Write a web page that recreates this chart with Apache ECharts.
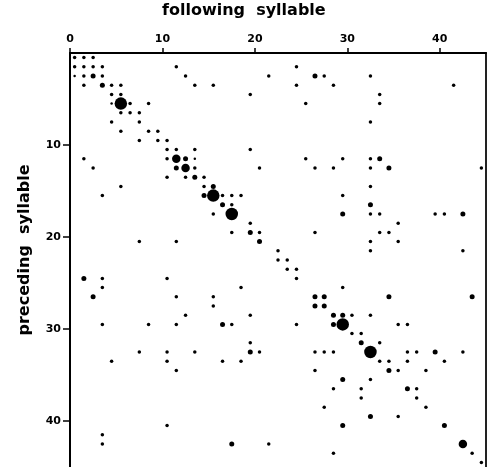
<!DOCTYPE html>
<html>
<head>
<meta charset="utf-8">
<script src="https://cdn.jsdelivr.net/npm/echarts@6/dist/echarts.min.js"></script>
<style>
  html, body { margin: 0; padding: 0; background: #fff; }
  #syllable-matrix { width: 490px; height: 467px; }
</style>
</head>
<body>
<div id="syllable-matrix"></div>
<script>
// cells are [following syllable, preceding syllable], grouped by dot size
var tinyCells = [[1, 3], [5, 6], [14, 12]];
var smallCells = [
  [1, 1], [2, 1], [3, 1],
  [1, 2], [2, 2], [3, 2], [4, 2], [12, 2], [25, 2],
  [2, 3], [4, 3], [13, 3], [22, 3], [28, 3], [33, 3],
  [2, 4], [5, 4], [6, 4], [14, 4], [16, 4], [25, 4], [29, 4], [42, 4],
  [5, 5], [6, 5], [20, 5], [34, 5],
  [7, 6], [9, 6], [26, 6], [34, 6],
  [6, 7], [7, 7], [8, 7],
  [5, 8], [8, 8], [33, 8],
  [6, 9], [9, 9], [10, 9],
  [8, 10], [10, 10], [11, 10],
  [11, 11], [12, 11], [14, 11], [20, 11],
  [2, 12], [11, 12], [26, 12], [30, 12], [33, 12],
  [3, 13], [14, 13], [21, 13], [27, 13], [29, 13], [33, 13], [45, 13],
  [11, 14], [13, 14], [15, 14],
  [6, 15], [15, 15], [33, 15],
  [4, 16], [17, 16], [18, 16], [19, 16], [30, 16],
  [18, 17],
  [16, 18], [33, 18], [34, 18], [40, 18], [41, 18],
  [20, 19], [36, 19],
  [18, 20], [21, 20], [27, 20], [34, 20], [35, 20],
  [8, 21], [12, 21], [33, 21], [36, 21],
  [23, 22], [33, 22], [43, 22],
  [23, 23], [24, 23],
  [24, 24], [25, 24],
  [4, 25], [11, 25], [25, 25],
  [4, 26], [19, 26], [30, 26],
  [12, 27], [16, 27],
  [16, 28],
  [13, 29], [20, 29], [31, 29], [33, 29],
  [4, 30], [9, 30], [12, 30], [18, 30], [25, 30], [36, 30], [37, 30],
  [31, 31], [32, 31],
  [20, 32], [34, 32],
  [8, 33], [11, 33], [14, 33], [21, 33], [27, 33], [28, 33], [29, 33], [37, 33], [38, 33], [43, 33],
  [5, 34], [11, 34], [17, 34], [19, 34], [34, 34], [35, 34], [37, 34], [41, 34],
  [12, 35], [27, 35], [36, 35], [39, 35],
  [33, 36],
  [29, 37], [32, 37], [38, 37],
  [32, 38], [38, 38],
  [28, 39], [39, 39],
  [36, 40],
  [11, 41],
  [4, 42],
  [4, 43], [22, 43],
  [29, 44], [44, 44],
  [45, 45]
];
var mediumCells = [
  [3, 3], [27, 3], [4, 4],
  [13, 12], [34, 12], [12, 13], [35, 13], [14, 14],
  [16, 15], [15, 16], [17, 17], [33, 17], [30, 18], [43, 18],
  [20, 20], [21, 21],
  [2, 25], [3, 27], [27, 27], [28, 27], [35, 27], [44, 27],
  [27, 28], [28, 28], [29, 29], [30, 29],
  [17, 30], [29, 30], [32, 32], [20, 33], [40, 33],
  [35, 35], [30, 36], [37, 37], [33, 40], [30, 41], [41, 41], [18, 43]
];
var largeCells = [[12, 12], [13, 13], [43, 43]];
var hugeCells = [[6, 6], [16, 16], [18, 18], [30, 30], [33, 33]];

var xTicks = [0, 10, 20, 30, 40];
var yTicks = [10, 20, 30, 40];
var axisMax = 45;

var labelFont = {
  color: "#000",
  fontFamily: "DejaVu Sans",
  fontWeight: "bold",
  fontSize: 11
};
var nameFont = {
  fill: "#000",
  fontFamily: "DejaVu Sans",
  fontWeight: "bold",
  fontSize: 16
};

function cellSeries(cells, size) {
  return {
    type: "scatter",
    symbol: "circle",
    symbolSize: size,
    itemStyle: { color: "#000", opacity: 1 },
    silent: true,
    // cell n spans n-1 .. n on the axis
    data: cells.map(function(c) {
      return [c[0] - 0.5, c[1] - 0.5];
    })
  };
}

var chart = echarts.init(document.getElementById("syllable-matrix"));
chart.setOption({
  animation: false,
  graphic: [
    {
      type: "text",
      left: 162,
      top: 3,
      style: Object.assign({ text: "following  syllable" }, nameFont)
    },
    {
      type: "text",
      x: 25,
      y: 250,
      rotation: Math.PI / 2,
      style: Object.assign({
        text: "preceding  syllable",
        align: "center",
        verticalAlign: "middle"
      }, nameFont)
    }
  ],
  grid: {
    left: 70,
    right: 4,
    top: 53,
    bottom: 0,
    show: false
  },
  xAxis: {
    type: "value",
    position: "top",
    min: 0,
    max: axisMax,
    interval: 10,
    axisLine: { lineStyle: { color: "#000", width: 2 } },
    axisTick: {
      length: 5,
      customValues: xTicks,
      lineStyle: { color: "#000", width: 1.5 }
    },
    axisLabel: Object.assign({
      margin: 8,
      customValues: xTicks
    }, labelFont),
    splitLine: { show: false }
  },
  yAxis: [
    {
      type: "value",
      inverse: true,
      min: 0,
      max: axisMax,
      interval: 10,
      axisLine: { lineStyle: { color: "#000", width: 2 } },
      axisTick: {
        length: 7,
        customValues: yTicks,
        lineStyle: { color: "#000", width: 1.5 }
      },
      axisLabel: Object.assign({
        margin: 9,
        customValues: yTicks
      }, labelFont),
      splitLine: { show: false }
    },
    {
      type: "value",
      position: "right",
      inverse: true,
      min: 0,
      max: axisMax,
      axisLine: { show: true, lineStyle: { color: "#222", width: 2 } },
      axisTick: { show: false },
      axisLabel: { show: false },
      splitLine: { show: false }
    }
  ],
  series: [
    cellSeries(tinyCells, 2.5),
    cellSeries(smallCells, 3.5),
    cellSeries(mediumCells, 5),
    cellSeries(largeCells, 8.5),
    cellSeries(hugeCells, 12.5)
  ]
});
</script>
</body>
</html>
